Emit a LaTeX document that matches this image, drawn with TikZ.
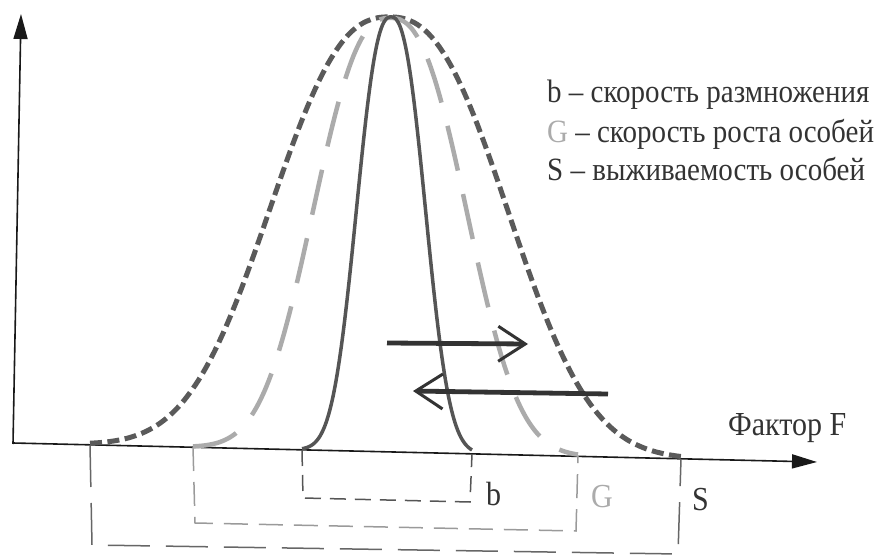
\documentclass[tikz,border=0pt]{standalone}
\usepackage{fontspec}
\setmainfont{Liberation Serif}
\usetikzlibrary{arrows.meta}
\definecolor{ink}{HTML}{333333}
\definecolor{curveS}{HTML}{5A5A5A}
\definecolor{curveG}{HTML}{ABABAB}
\definecolor{curveB}{HTML}{555555}
\definecolor{brS}{HTML}{666666}
\definecolor{brG}{HTML}{9A9A9A}
\newcommand{\tallt}[1]{\scalebox{1}[1.12]{#1}}
\begin{document}
\begin{tikzpicture}[x=1pt,y=-1pt,
  declare function={ax(\xx)=443+0.0236*(\xx-13);
                    bell(\xx,\cc,\aa,\pp)=exp(-pow((abs(\xx-\cc)+0.01)/\aa,\pp));},
  axisline/.style={line width=1.6pt, draw=black!90, -{Triangle[length=25pt,width=14pt]}},
  curveSstyle/.style={line width=5pt, draw=curveS, dash pattern=on 12pt off 5.5pt},
  curveGstyle/.style={line width=4.5pt, draw=curveG, dash pattern=on 46pt off 24pt},
  curveBstyle/.style={line width=3.5pt, draw=curveB},
  brBstyle/.style={line width=1.5pt, draw=curveB, dash pattern=on 16pt off 9pt},
  brGstyle/.style={line width=1.5pt, draw=brG, dash pattern=on 24pt off 11pt},
  brSstyle/.style={line width=1.5pt, draw=brS, dash pattern=on 42pt off 16pt},
  shiftarrow/.style={line width=4.8pt, draw=ink, -{Straight Barb[length=27pt,width=35pt,line width=3pt]}},
  txt/.style={font=\fontsize{30}{36}\selectfont, text=ink, inner sep=0pt, anchor=base west},
  legtxt/.style={txt, font=\fontsize{29}{34}\selectfont}]
\useasboundingbox (0,0) rectangle (883,556);
\fill[white] (0,0) rectangle (883,556);
% axes
\coordinate (O) at (13,443);
\coordinate (Xend) at (817,462);
\coordinate (Ybot) at (13,444);
\coordinate (Yend) at (21,14);
\draw[axisline] (O) -- (Xend);
\draw[axisline] (Ybot) -- (Yend);
% brackets
\coordinate (bL) at (302,450); \coordinate (bLd) at (303,498);
\coordinate (bRd) at (470,502); \coordinate (bR) at (472,454);
\coordinate (gL) at (193,447); \coordinate (gLd) at (195,523);
\coordinate (gRd) at (576,531); \coordinate (gR) at (578,456);
\coordinate (sL) at (90,445); \coordinate (sLd) at (92,545);
\coordinate (sRd) at (678,554); \coordinate (sR) at (681,459);
\draw[brSstyle] (sL) -- (sLd) -- (sRd) -- (sR);
\draw[brGstyle] (gL) -- (gLd) -- (gRd) -- (gR);
\draw[brBstyle] (bL) -- (bLd) -- (bRd) -- (bR);
% curves
\draw[curveSstyle] plot[domain=90:683, samples=220] (\x, {ax(\x)-(ax(\x)-17)*bell(\x,389,148,2.45)});
\draw[curveGstyle] plot[domain=193:578, samples=200] (\x, {ax(\x)-(ax(\x)-18)*bell(\x,390,95,2.5)});
\draw[curveBstyle] plot[domain=302:472, samples=160] (\x, {ax(\x)-(ax(\x)-17)*bell(\x,391,43,2.45)});
% shift arrows
\coordinate (r1) at (387,343); \coordinate (r2) at (528,344);
\coordinate (l1) at (608,394); \coordinate (l2) at (413,391);
\draw[shiftarrow] (r1) -- (r2);
\draw[shiftarrow] (l1) -- (l2);
% labels
\node[txt] (lb) at (486,505) {\tallt{b}};
\node[txt, text=curveG] (lg) at (591,507) {\tallt{G}};
\node[txt] (ls) at (692,510) {\tallt{S}};
\node[txt] (fak) at (728,435) {\tallt{Фактор F}};
\node[legtxt] (leg1) at (547,103) {\tallt{b – скорость размножения}};
\node[legtxt] (leg2) at (547,143) {\tallt{\textcolor{curveG}{G} – скорость роста особей}};
\node[legtxt] (leg3) at (547,181) {\tallt{S – выживаемость особей}};
\end{tikzpicture}
\end{document}
